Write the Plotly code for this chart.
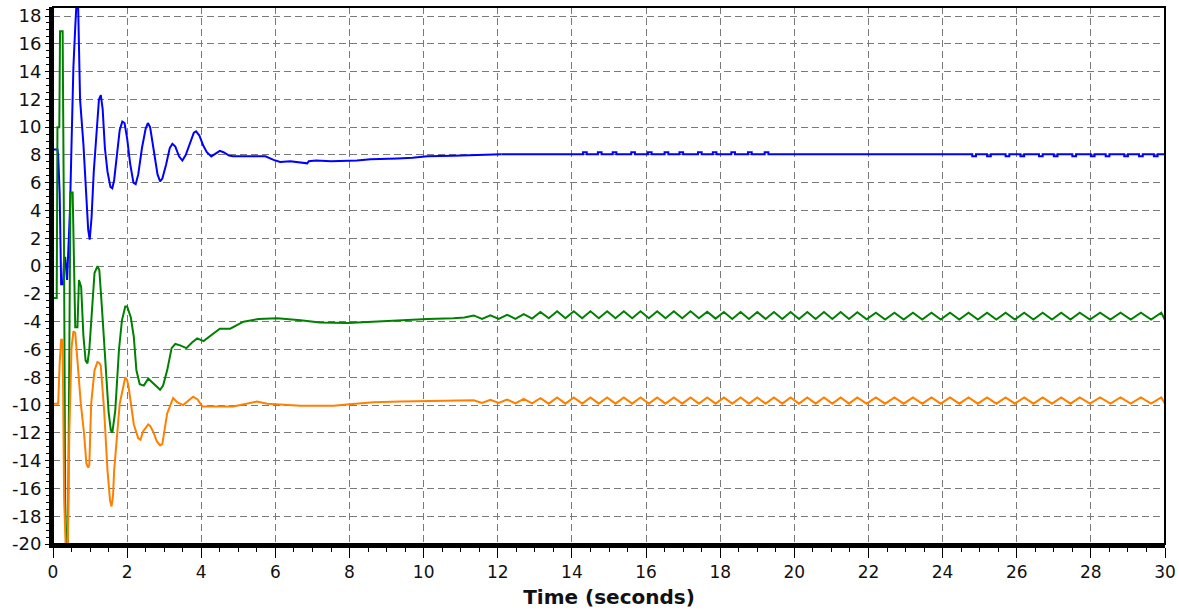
import plotly.graph_objects as go

# ---------------- data ----------------
blue_t = [0, 0.12, 0.14, 0.18, 0.22, 0.27, 0.3, 0.33, 0.38, 0.42, 0.46, 0.5, 0.55, 0.6, 0.64,
          0.68, 0.73, 0.82, 0.91, 0.95, 0.99, 1.04, 1.1, 1.17, 1.24, 1.29, 1.34, 1.4, 1.47,
          1.55, 1.6, 1.65, 1.72, 1.8, 1.87, 1.93, 2.0, 2.08, 2.17, 2.23, 2.3, 2.4, 2.5, 2.56,
          2.62, 2.72, 2.82, 2.89, 2.95, 3.05, 3.15, 3.22, 3.3, 3.4, 3.49, 3.58, 3.7, 3.8, 3.86,
          3.95, 4.05, 4.15, 4.27, 4.4, 4.5, 4.6, 4.75, 4.86, 5.2, 5.73, 5.95, 6.13, 6.4, 6.86,
          6.9, 7.1, 7.5, 7.84, 8.2, 8.57, 9.0, 9.3, 9.7, 10.1, 10.8, 11.5, 12.1]
blue_v = [8.4, 8.4, 8.0, 5.2, -1.3, -1.3, 0.6, 0.6, -1.0, 1.5, 4.2, 8.8, 14.3, 17.2, 19.2,
          18.5, 12.0, 8.8, 4.7, 2.6, 1.9, 3.5, 6.8, 9.5, 12.0, 12.3, 11.3, 8.5, 6.8,
          5.7, 5.6, 6.2, 8.0, 9.8, 10.4, 10.3, 9.2, 7.4, 6.0, 5.9, 6.6, 8.5, 9.9, 10.3,
          10.0, 8.4, 6.6, 6.1, 6.3, 7.3, 8.5, 8.8, 8.6, 7.9, 7.6, 8.0, 8.9, 9.6, 9.7,
          9.4, 8.7, 8.2, 7.9, 8.1, 8.3, 8.2, 7.95, 7.9, 7.9, 7.9, 7.65, 7.5, 7.55, 7.4,
          7.55, 7.6, 7.55, 7.55, 7.6, 7.7, 7.7, 7.75, 7.8, 7.9, 7.95, 8.0, 8.05]
# steady-state blue (step style) with small notches
blue_tail_t = [12.1, 14.3, 14.4, 14.7, 14.8, 15.1, 15.2, 15.6, 15.7, 16.05, 16.15, 16.5, 16.6,
               16.9, 17.0, 17.4, 17.5, 17.8, 17.9, 18.3, 18.4, 18.75, 18.85, 19.2, 19.3,
               24.8, 24.9, 25.2, 25.3, 25.7, 25.8, 26.1, 26.2, 26.6, 26.7, 27.0, 27.1, 27.5,
               27.6, 28.0, 28.1, 28.4, 28.5, 28.9, 29.0, 29.3, 29.4, 29.7, 29.8, 30.0]
blue_tail_v = [8.05, 8.2, 8.05, 8.2, 8.05, 8.2, 8.05, 8.2, 8.05, 8.2, 8.05, 8.2, 8.05,
               8.2, 8.05, 8.2, 8.05, 8.2, 8.05, 8.2, 8.05, 8.2, 8.05, 8.2, 8.05,
               7.9, 8.05, 7.9, 8.05, 7.9, 8.05, 7.9, 8.05, 7.9, 8.05, 7.9, 8.05, 7.9,
               8.05, 7.9, 8.05, 7.9, 8.05, 7.9, 8.05, 7.9, 8.05, 7.9, 8.05, 8.05]

green_t = [0, 0.1, 0.12, 0.17, 0.19, 0.26, 0.29, 0.33, 0.36, 0.4, 0.42, 0.45, 0.47, 0.53,
           0.57, 0.6, 0.66, 0.7, 0.76, 0.82, 0.88, 0.93, 0.98, 1.05, 1.12, 1.2, 1.25, 1.32,
           1.41, 1.5, 1.56, 1.6, 1.68, 1.78, 1.86, 1.95, 2.0, 2.1, 2.18, 2.25, 2.34, 2.45,
           2.57, 2.7, 2.8, 2.89, 2.97, 3.08, 3.2, 3.3, 3.43, 3.6, 3.75, 3.89, 4.06, 4.2,
           4.33, 4.5, 4.78, 5.14, 5.55, 6.05, 6.68, 7.2, 7.95, 8.65, 9.38, 10.1, 10.8, 11.1]
green_v = [-2.3, -2.3, 10, 10, 16.9, 16.9, 5.0, -17, -20, -20, -14, -2, 5.3, 5.3,
           -1, -4.4, -4.4, -1.0, -1.5, -5.0, -6.8, -7.0, -6.0, -3.0, -0.5, 0.0, -0.3, -3.0,
           -7.0, -10.5, -11.8, -12.0, -10.4, -6.0, -3.9, -2.9, -2.9, -3.7, -5.1, -7.5, -8.5, -8.6,
           -8.1, -8.4, -8.7, -8.9, -8.6, -7.5, -5.9, -5.6, -5.7, -5.9, -5.5, -5.2, -5.4, -5.1,
           -4.8, -4.5, -4.5, -4.0, -3.8, -3.75, -3.9, -4.05, -4.1, -4.0, -3.85, -3.8, -3.75, -3.7]

orange_t = [0, 0.14, 0.18, 0.22, 0.26, 0.3, 0.34, 0.4, 0.44, 0.5, 0.55, 0.6, 0.66, 0.75,
            0.84, 0.9, 0.95, 0.98, 1.03, 1.12, 1.2, 1.26, 1.29, 1.38, 1.47, 1.54, 1.58, 1.62,
            1.65, 1.8, 1.95, 2.0, 2.04, 2.18, 2.3, 2.36, 2.43, 2.57, 2.62, 2.7, 2.8, 2.89,
            2.95, 3.08, 3.24, 3.35, 3.51, 3.65, 3.78, 3.9, 4.03, 4.43, 4.86, 5.5, 5.78, 6.68,
            7.57, 8.0, 8.65, 9.38, 10.3, 11.1]
orange_v = [-9.9, -9.9, -7.0, -5.3, -5.3, -16.7, -20, -20, -12, -5.9, -4.7, -4.8, -6.8, -9.9,
            -12.1, -14.2, -14.5, -14.3, -9.9, -7.5, -6.9, -7.0, -7.2, -10.4, -14.7, -16.9, -17.3, -16.5,
            -14.7, -9.9, -8.0, -8.2, -8.7, -11.4, -12.4, -12.5, -11.9, -11.4, -11.5, -11.9, -12.6, -12.9,
            -12.8, -10.6, -9.5, -9.8, -10.0, -9.7, -9.4, -9.6, -10.1, -10.1, -10.1, -9.75, -9.9, -10.05,
            -10.05, -9.95, -9.8, -9.75, -9.7, -9.65]

# steady-state ripple (peak / trough times)
ripple_t = [11.35, 11.575, 11.8, 12.025, 12.25, 12.475, 12.7, 12.925, 13.15, 13.375,
            13.6, 13.825, 14.05, 14.275, 14.5, 14.725, 14.95, 15.175, 15.4, 15.625,
            15.85, 16.075, 16.3, 16.525, 16.75, 16.975, 17.2, 17.425, 17.65, 17.875,
            18.1, 18.325, 18.55, 18.775, 19.0, 19.225, 19.45, 19.675, 19.9, 20.125,
            20.35, 20.575, 20.8, 21.025, 21.25, 21.475, 21.7, 21.95, 22.2, 22.45,
            22.7, 22.95, 23.2, 23.45, 23.7, 23.95, 24.2, 24.45, 24.7, 24.95,
            25.2, 25.45, 25.7, 25.95, 26.2, 26.45, 26.7, 26.95, 27.2, 27.45,
            27.7, 27.975, 28.25, 28.525, 28.8, 29.075, 29.35, 29.625, 29.9, 30.0]
green_ripple_v = [-3.55, -3.8, -3.55, -3.8, -3.5, -3.8, -3.45, -3.78, -3.3, -3.75,
                  -3.25, -3.75, -3.25, -3.75, -3.25, -3.75, -3.25, -3.75, -3.25, -3.75,
                  -3.25, -3.75, -3.25, -3.75, -3.25, -3.75, -3.25, -3.75, -3.28, -3.78,
                  -3.3, -3.8, -3.3, -3.8, -3.3, -3.8, -3.3, -3.8, -3.3, -3.8,
                  -3.3, -3.8, -3.3, -3.8, -3.3, -3.8, -3.32, -3.82, -3.35, -3.85,
                  -3.35, -3.85, -3.35, -3.85, -3.35, -3.85, -3.35, -3.85, -3.35, -3.85,
                  -3.35, -3.85, -3.35, -3.85, -3.35, -3.85, -3.35, -3.85, -3.35, -3.85,
                  -3.35, -3.85, -3.35, -3.85, -3.35, -3.85, -3.35, -3.85, -3.35, -3.88]
orange_ripple_v = [-9.65, -9.85, -9.62, -9.85, -9.6, -9.88, -9.55, -9.88, -9.5, -9.9,
                   -9.45, -9.9, -9.45, -9.9, -9.45, -9.9, -9.45, -9.9, -9.45, -9.9,
                   -9.45, -9.9, -9.45, -9.9, -9.45, -9.9, -9.45, -9.9, -9.45, -9.9,
                   -9.45, -9.9, -9.45, -9.9, -9.45, -9.9, -9.45, -9.9, -9.45, -9.9,
                   -9.45, -9.9, -9.45, -9.9, -9.45, -9.9, -9.45, -9.9, -9.45, -9.9,
                   -9.45, -9.9, -9.45, -9.9, -9.45, -9.9, -9.45, -9.9, -9.45, -9.9,
                   -9.45, -9.9, -9.45, -9.9, -9.45, -9.9, -9.45, -9.9, -9.45, -9.9,
                   -9.45, -9.9, -9.45, -9.9, -9.45, -9.9, -9.45, -9.9, -9.45, -9.9]

x_ticks = [0, 2, 4, 6, 8, 10, 12, 14, 16, 18, 20, 22, 24, 26, 28, 30]
y_ticks = [-20, -18, -16, -14, -12, -10, -8, -6, -4, -2, 0, 2, 4, 6, 8, 10, 12, 14, 16, 18]
x_title = "Time (seconds)"

BLUE = "#0000ff"
GREEN = "#008000"
ORANGE = "#ff8000"

fig = go.Figure()
fig.add_trace(go.Scatter(x=blue_t, y=blue_v, mode="lines",
                         line=dict(color=BLUE, width=2), showlegend=False))
fig.add_trace(go.Scatter(x=blue_tail_t, y=blue_tail_v, mode="lines",
                         line=dict(color=BLUE, width=2, shape="hv"), showlegend=False))
fig.add_trace(go.Scatter(x=green_t + ripple_t, y=green_v + green_ripple_v, mode="lines",
                         line=dict(color=GREEN, width=2), showlegend=False))
fig.add_trace(go.Scatter(x=orange_t + ripple_t, y=orange_v + orange_ripple_v, mode="lines",
                         line=dict(color=ORANGE, width=2), showlegend=False))

grid_common = dict(showgrid=True, gridcolor="#7a7a7a", gridwidth=1, griddash="7px,4px",
                   zeroline=False, showline=True, linecolor="black", linewidth=4,
                   ticks="outside", tickcolor="black", tickwidth=1, automargin=False,
                   ticklabeloverflow="allow")

fig.update_xaxes(range=[0, 30], tickmode="array", tickvals=x_ticks,
                 ticktext=[str(v) for v in x_ticks], ticklen=10,
                 tickfont=dict(family="DejaVu Sans", size=17, color="#111111"),
                 minor=dict(tickmode="linear", tick0=0, dtick=0.5, ticks="outside",
                            ticklen=4, tickcolor="black", showgrid=False),
                 title=dict(text="<b>" + x_title + "</b>",
                            font=dict(family="DejaVu Sans", size=20, color="#111111"),
                            standoff=10),
                 **grid_common)
fig.update_yaxes(range=[-20, 18.65], tickmode="array", tickvals=y_ticks,
                 ticktext=[str(v) for v in y_ticks], ticklen=4,
                 tickfont=dict(family="DejaVu Sans", size=18, color="#111111"),
                 minor=dict(tickmode="linear", tick0=0, dtick=0.5, ticks="outside",
                            ticklen=3, tickcolor="black", showgrid=False),
                 **grid_common)

fig.add_shape(type="rect", xref="paper", yref="paper", x0=0, x1=1, y0=0, y1=1,
              line=dict(color="black", width=2), layer="above")

fig.update_layout(width=1179, height=616,
                  margin=dict(l=53, r=14, t=7, b=72),
                  paper_bgcolor="white", plot_bgcolor="white")

# remove the default page-body margin so the figure fills the window exactly
fig.write_html("out.html", config={"displayModeBar": False},
               post_script="document.body.style.margin='0';")
